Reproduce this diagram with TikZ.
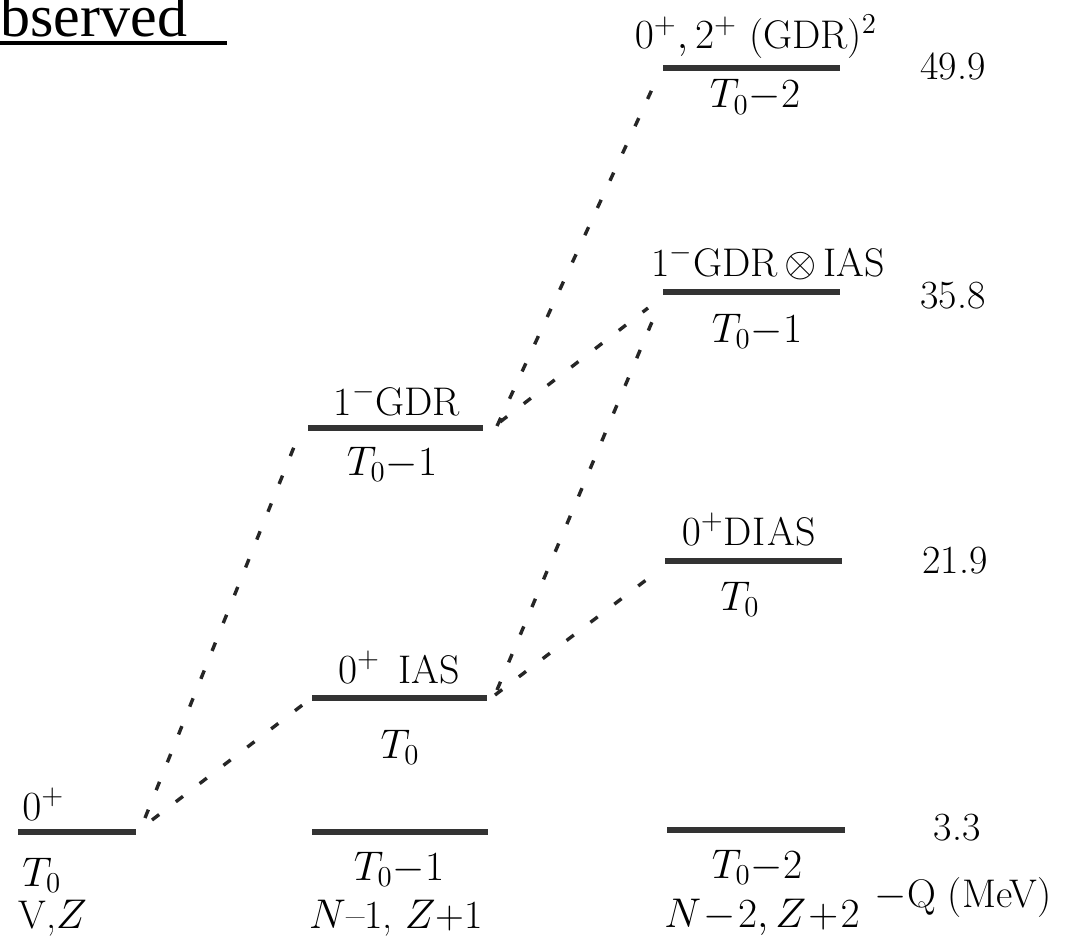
\documentclass[tikz,border=0pt]{standalone}
\usepackage{fontspec}
\newfontfamily\timesfont{Liberation Serif}
\begin{document}
\begin{tikzpicture}[x=0.5pt,y=-0.5pt,
  level/.style={line width=2.6pt,black!80},
  conn/.style={line width=1.7pt,dash pattern=on 4.5pt off 10.5pt,black!85},
  lab/.style={anchor=base,inner sep=0pt,font=\fontsize{20}{24}\selectfont},
  labw/.style={anchor=base west,inner sep=0pt,font=\fontsize{20}{24}\selectfont},
  num/.style={anchor=center,inner sep=0pt,font=\fontsize{20}{24}\selectfont}]
\useasboundingbox (0,0) rectangle (1074,936);
% title fragment
\node[anchor=base west,inner sep=0pt,font=\timesfont\fontsize{30}{30}\selectfont] (obs) at (0,37) {bserved};
\coordinate (ulA) at (0,43); \coordinate (ulB) at (227,43);
\draw[line width=2pt] (ulA) -- (ulB);
% level end points
\coordinate (L0a) at (18,832);  \coordinate (L0b) at (136,832);
\coordinate (M0a) at (312,832); \coordinate (M0b) at (488,832);
\coordinate (M1a) at (312,698); \coordinate (M1b) at (487,698);
\coordinate (M2a) at (308,428); \coordinate (M2b) at (483,428);
\coordinate (R0a) at (667,830); \coordinate (R0b) at (845,830);
\coordinate (R1a) at (665,561); \coordinate (R1b) at (842,561);
\coordinate (R2a) at (663,292); \coordinate (R2b) at (840,292);
\coordinate (R3a) at (663,68);  \coordinate (R3b) at (840,68);
\foreach \l in {L0,M0,M1,M2,R0,R1,R2,R3} \draw[level] (\l a) -- (\l b);
% labels, left column
\node[labw] (l0top) at (22,820) {$0^+$};
\node[labw] (l0T) at (22,886) {$T_0$};
\node[labw] (l0NZ) at (18,928) {V,$Z$};
% middle column
\node[lab] (m2top) at (397,415) {1$^-$GDR};
\node[lab] (m2T) at (392,475) {$T_0{-}1$};
\node[lab] (m1top) at (399,683) {$0^+$\ \,IAS};
\node[lab] (m1T) at (400,758) {$T_0$};
\node[lab] (m0T) at (399,880) {$T_0{-}1$};
\node[lab] (m0NZ) at (396,928) {$N$--1, $Z$+1};
% right column
\node[lab] (r3top) at (756,49) {$0^+, 2^+$ (GDR)$^2$};
\node[lab] (r3T) at (755,108) {$T_0{-}2$};
\node[lab] (r2top) at (768,276) {1$^-$GDR\,$\otimes$\,IAS};
\node[lab] (r2T) at (757,342) {$T_0{-}1$};
\node[lab] (r1top) at (749,545) {$0^+$D\kern0.5pt I\kern0.5pt A\kern0.5pt S};
\node[lab] (r1T) at (740,610) {$T_0$};
\node[lab] (r0T) at (757,878) {$T_0{-}2$};
\node[lab] (r0NZ) at (762,927) {$N\!-\!2, Z\!+\!2$};
\node[lab] (qmev) at (963,907) {$-$Q (MeV)};
% energies
\node[num] (e3) at (953,66) {49.9};
\node[num] (e2) at (953,296) {35.8};
\node[num] (e1) at (955,561) {21.9};
\node[num] (e0) at (957,828) {3.3};
% connector end points
\coordinate (c1s) at (145,818); \coordinate (c1e) at (300,432);
\coordinate (c2s) at (152,820); \coordinate (c2e) at (305,703);
\coordinate (c3s) at (495,695); \coordinate (c3e) at (650,577);
\coordinate (c4s) at (497,690); \coordinate (c4e) at (657,310);
\coordinate (c5s) at (500,422); \coordinate (c5e) at (648,308);
\coordinate (c6s) at (497,426); \coordinate (c6e) at (660,72);
\foreach \c in {c1,c2,c3,c4,c5,c6} \draw[conn] (\c s) -- (\c e);
\end{tikzpicture}
\end{document}
